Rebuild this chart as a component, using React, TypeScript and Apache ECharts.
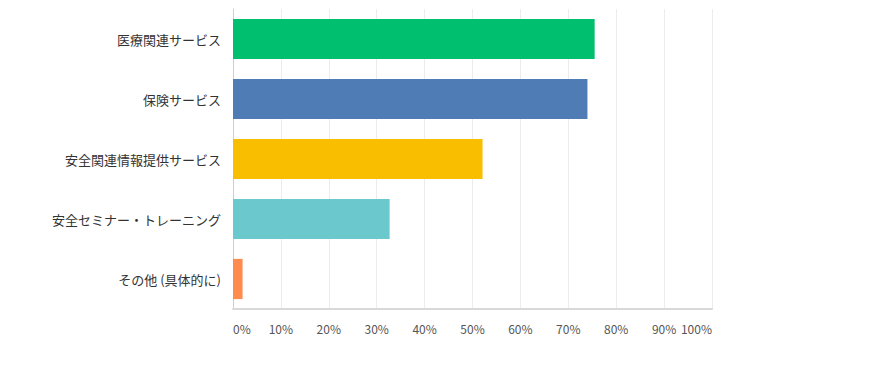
import React, { useEffect, useRef } from "react";
import * as echarts from "echarts";

const categories = [
  "医療関連サービス",
  "保険サービス",
  "安全関連情報提供サービス",
  "安全セミナー・トレーニング",
  "その他 (具体的に)",
];
const values = [75.5, 74.0, 52.1, 32.7, 2.0];
const colors = ["#00BF6F", "#507CB6", "#F9BE00", "#6BC8CD", "#FF8B4F"];

export default function App() {
  const ref = useRef<HTMLDivElement>(null);
  useEffect(() => {
    if (!ref.current) return;
    const chart = echarts.init(ref.current, null, { renderer: "svg" });
    chart.setOption({
      animation: false,
      grid: { left: 233, top: 9, width: 479, height: 300, containLabel: false },
      xAxis: {
        type: "value",
        min: 0,
        max: 100,
        interval: 10,
        axisLine: { show: true, lineStyle: { color: "#d9d9d9", width: 2 } },
        axisTick: { show: false },
        splitLine: { show: true, lineStyle: { color: "#ececec", width: 1 } },
        axisLabel: {
          formatter: "{value}%",
          color: "#555",
          fontSize: 12,
          margin: 13,
          fontFamily: "Noto Sans CJK JP, Noto Sans, sans-serif",
          alignMinLabel: "left",
          alignMaxLabel: "right",
        },
      },
      yAxis: {
        type: "category",
        data: categories,
        inverse: true,
        axisLine: { show: true, lineStyle: { color: "#cfcfcf", width: 1 } },
        axisTick: { show: false },
        axisLabel: {
          color: "#333",
          fontSize: 13,
          margin: 12,
          fontFamily: "Noto Sans CJK JP, Noto Sans, sans-serif",
        },
      },
      series: [
        {
          type: "bar",
          data: values.map((v, i) => ({ value: v, itemStyle: { color: colors[i] } })),
          barCategoryGap: "33%",
        },
      ],
    });
    return () => chart.dispose();
  }, []);
  return (
    <div
      ref={ref}
      style={{ position: "absolute", left: 0, top: 0, width: 895, height: 373, background: "#fff" }}
    />
  );
}
